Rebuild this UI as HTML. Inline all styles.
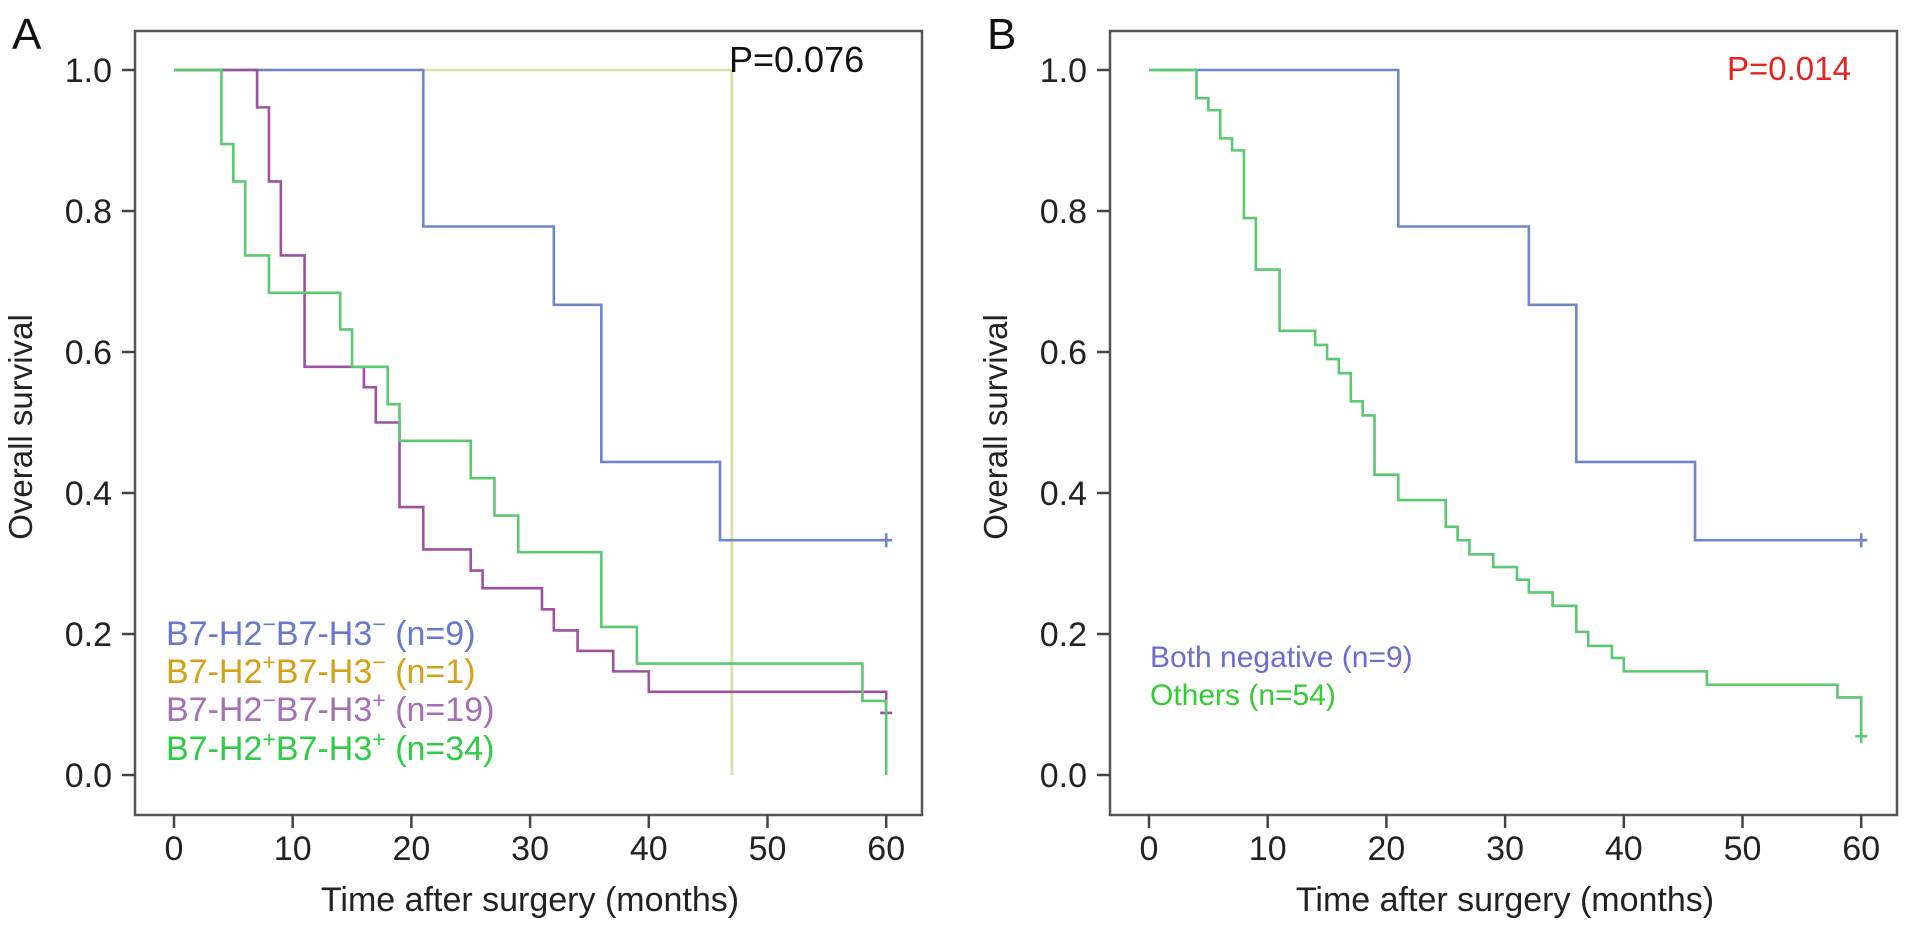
<!DOCTYPE html>
<html><head><meta charset="utf-8"><style>
body{margin:0;background:#fff;}
svg{display:block;font-family:"Liberation Sans",Arial,sans-serif;}
</style></head><body>
<svg id="fig" width="1913" height="928" viewBox="0 0 1913 928">
<g id="panelA"></g>
<g id="panelB"></g>
</svg>
<script>
// ---- data ----
const xTicks = [0,10,20,30,40,50,60];
const yTicks = [0.0,0.2,0.4,0.6,0.8,1.0];
const yTickLabels = ["0.0","0.2","0.4","0.6","0.8","1.0"];
// Panel A
const blueT = [0,21,32,36,46,60];
const blueS = [1,0.778,0.667,0.444,0.333,0.333];
const yellowT = [0,47,47];
const yellowS = [1,1,0];
const purpleT = [0,7,8,9,11,16,17,19,21,25,26,31,32,34,37,40,60];
const purpleS = [1,0.947,0.842,0.737,0.579,0.55,0.5,0.38,0.32,0.29,0.265,0.235,0.205,0.176,0.147,0.118,0.088];
const greenAT = [0,4,5,6,8,14,15,18,19,25,27,29,36,39,58,60];
const greenAS = [1,0.895,0.842,0.737,0.684,0.632,0.579,0.526,0.474,0.421,0.368,0.316,0.21,0.158,0.105,0];
// Panel B
const othersT = [0,4,5,6,7,8,9,11,14,15,16,17,18,19,21,25,26,27,29,31,32,34,36,37,39,40,47,58,60];
const othersS = [1,0.96,0.943,0.903,0.886,0.79,0.717,0.63,0.61,0.59,0.57,0.53,0.51,0.426,0.39,0.352,0.333,0.313,0.295,0.277,0.259,0.24,0.203,0.183,0.166,0.147,0.128,0.11,0.055];

const NS = "http://www.w3.org/2000/svg";
function mk(parent, tag, attrs, text){
  const e = document.createElementNS(NS, tag);
  for (const k in attrs) e.setAttribute(k, attrs[k]);
  if (text !== undefined) e.textContent = text;
  parent.appendChild(e);
  return e;
}
function panel(g, off, letter){
  const xs = t => off + 174 + t*11.87;
  const ys = s => 775 - s*705;
  const box = mk(g,'rect',{x:off+135,y:31,width:787,height:784,fill:'none',stroke:'#555','stroke-width':2.5});
  
  
  const L = mk(g,'text',{x:off+12,y:49,'font-size':44,fill:'#111'},letter);
  
  
  xTicks.forEach(t=>{
    const tk = mk(g,'line',{x1:xs(t),x2:xs(t),y1:815,y2:828,stroke:'#444','stroke-width':2.5});
    
    
    const tl = mk(g,'text',{x:xs(t),y:860,'font-size':34,'text-anchor':'middle',fill:'#222'},String(t));
    
    
  });
  yTicks.forEach((v,i)=>{
    const tk = mk(g,'line',{x1:off+122,x2:off+135,y1:ys(v),y2:ys(v),stroke:'#444','stroke-width':2.5});
    
    
    const tl = mk(g,'text',{x:off+112,y:ys(v)+12,'font-size':34,'text-anchor':'end',fill:'#222'},yTickLabels[i]);
    
    
  });
  const xt = mk(g,'text',{x:off+530,y:911,'font-size':34,'text-anchor':'middle',fill:'#222'},'Time after surgery (months)');
  
  
  const yt = mk(g,'text',{x:0,y:0,'font-size':33,'text-anchor':'middle',fill:'#222',transform:`translate(${off+32},427) rotate(-90)`},'Overall survival');
  
  
  return {xs,ys};
}
function curve(g, ax, T, S, color, name, censor){
  let d = `M${ax.xs(T[0])},${ax.ys(S[0])}`;
  for (let i=1;i<T.length;i++){
    d += ` H${ax.xs(T[i])} V${ax.ys(S[i])}`;
  }
  const p = mk(g,'path',{d:d,fill:'none',stroke:color,'stroke-width':2.6});
  
  
  if (censor){
    const x = ax.xs(T[T.length-1]), y = ax.ys(S[S.length-1]);
    const c = mk(g,'path',{d:`M${x-6},${y} H${x+6} M${x},${y-7} V${y+7}`,stroke:color,'stroke-width':2.6});
    
    
  }
}
function legendLine(g, x, y, color, parts, name, fs){
  const t = mk(g,'text',{x:x,y:y,'font-size':fs,fill:color});
  
  
  parts.forEach(p=>{
    if (p[1]) { mk(t,'tspan',{'font-size':fs*0.68,dy:-13},p[0]); mk(t,'tspan',{dy:13},'\u200B'); }
    else mk(t,'tspan',{},p[0]);
  });
}
const gA = document.getElementById('panelA');
const gB = document.getElementById('panelB');
const axA = panel(gA, 0, 'A');
curve(gA, axA, yellowT, yellowS, '#d9e0a6', 'curve-b7h2pos-b7h3neg', false);
curve(gA, axA, blueT, blueS, '#6f86c8', 'curve-both-negative', true);
curve(gA, axA, purpleT, purpleS, '#9c52a0', 'curve-b7h2neg-b7h3pos', true);
curve(gA, axA, greenAT, greenAS, '#5cc870', 'curve-both-positive', false);
const pA = mk(gA,'text',{x:729,y:72,'font-size':36,fill:'#111'},'P=0.076');


legendLine(gA,166,645,'#6a78cc',[['B7-H2'],['\u2212',1],['B7-H3'],['\u2212',1],[' (n=9)']],'legend-entry-both-negative',34);
legendLine(gA,166,683,'#d4a017',[['B7-H2'],['+',1],['B7-H3'],['\u2212',1],[' (n=1)']],'legend-entry-h2pos-h3neg',34);
legendLine(gA,166,721,'#a56fb5',[['B7-H2'],['\u2212',1],['B7-H3'],['+',1],[' (n=19)']],'legend-entry-h2neg-h3pos',34);
legendLine(gA,166,760,'#2ecc45',[['B7-H2'],['+',1],['B7-H3'],['+',1],[' (n=34)']],'legend-entry-both-positive',34);

const axB = panel(gB, 975, 'B');
curve(gB, axB, blueT, blueS, '#6f86c8', 'curve-both-negative-b', true);
curve(gB, axB, othersT, othersS, '#5cc870', 'curve-others', true);
const pB = mk(gB,'text',{x:1727,y:80,'font-size':33,fill:'#e8231f'},'P=0.014');


legendLine(gB,1150,667,'#6b6bd0',[['Both negative (n=9)']],'legend-entry-both-negative-b',30);
legendLine(gB,1150,705,'#33cc33',[['Others (n=54)']],'legend-entry-others',30);
</script>
</body></html>
